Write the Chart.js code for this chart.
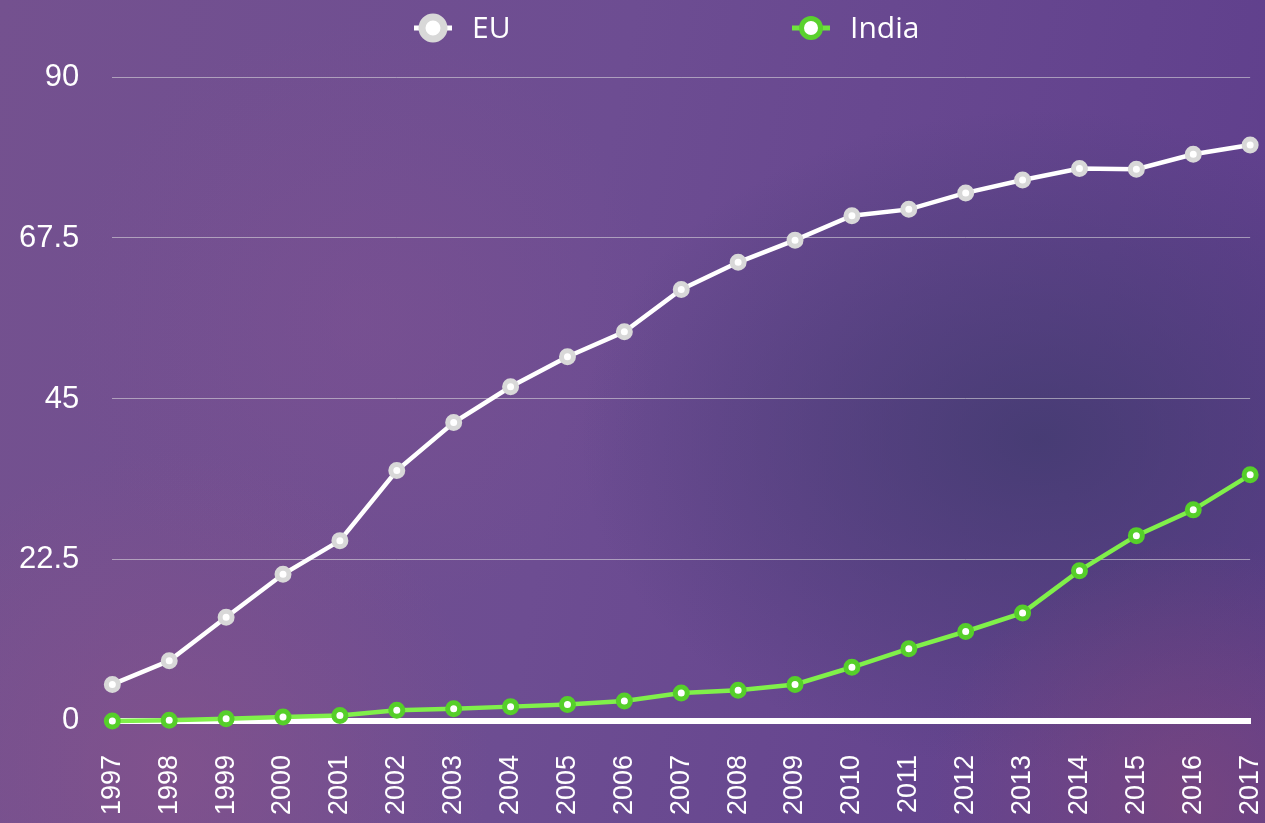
<!DOCTYPE html>
<html>
<head>
<meta charset="utf-8">
<script src="https://cdn.jsdelivr.net/npm/chart.js"></script>
<style>
    html, body {
        margin: 0;
        padding: 0;
        width: 1265px;
        height: 823px;
        overflow: hidden;
    }
    body {
        background:
            radial-gradient(circle at 170px 770px, rgba(140, 84, 138, 0.55) 0, rgba(140, 84, 138, 0) 320px),
            radial-gradient(circle at 1190px 800px, rgba(130, 72, 120, 0.6) 0, rgba(130, 72, 120, 0) 260px),
            radial-gradient(ellipse 460px 330px at 1040px 440px, rgba(64, 58, 110, 0.8) 0, rgba(64, 58, 110, 0) 100%),
            radial-gradient(circle at 360px 320px, rgba(128, 82, 146, 0.45) 0, rgba(128, 82, 146, 0) 300px),
            linear-gradient(100deg, #74518f 0%, #6d4d92 45%, #5e3e8c 100%);
    }
    #wrap {
        position: relative;
        width: 1265px;
        height: 823px;
    }
</style>
</head>
<body>
<div id="wrap"><canvas id="growth-chart"></canvas></div>
<script>
// Dados
const years = ['1997', '1998', '1999', '2000', '2001', '2002', '2003', '2004', '2005', '2006', '2007',
               '2008', '2009', '2010', '2011', '2012', '2013', '2014', '2015', '2016', '2017'];
const euValues = [5.1, 8.4, 14.5, 20.5, 25.2, 35.0, 41.7, 46.7, 50.9, 54.4, 60.3,
                  64.1, 67.2, 70.6, 71.5, 73.8, 75.6, 77.2, 77.1, 79.2, 80.5];
const indiaValues = [0.0, 0.1, 0.3, 0.55, 0.75, 1.5, 1.7, 2.0, 2.3, 2.8, 3.9,
                     4.3, 5.1, 7.5, 10.1, 12.5, 15.1, 21.0, 25.9, 29.5, 34.4];
const yMin = 0;
const yMax = 90;
const yStep = 22.5;

const seriesNames = ['EU', 'India'];

// legenda desenhada à mão: linha curta + círculo
const legendPlugin = {
    id: 'ringLegend',
    afterDraw(chart) {
        const ctx = chart.ctx;
        const items = [
            { x: 433, ring: '#d8d8d8', stub: '#ffffff', r: 11, w: 7 },
            { x: 811, ring: '#5ad12e', stub: '#6fe43c', r: 9.5, w: 5 }
        ];
        const y = 28;
        ctx.save();
        chart.data.datasets.forEach((ds, i) => {
            const it = items[i];
            ctx.strokeStyle = it.stub;
            ctx.lineWidth = 5;
            ctx.beginPath();
            ctx.moveTo(it.x - 19, y);
            ctx.lineTo(it.x + 19, y);
            ctx.stroke();

            ctx.beginPath();
            ctx.arc(it.x, y, it.r, 0, Math.PI * 2);
            ctx.fillStyle = '#ffffff';
            ctx.fill();
            ctx.lineWidth = it.w;
            ctx.strokeStyle = it.ring;
            ctx.stroke();

            ctx.fillStyle = '#ffffff';
            ctx.font = '30px "Open Sans", sans-serif';
            ctx.textBaseline = 'middle';
            ctx.textAlign = 'left';
            ctx.fillText(ds.label, it.x + 39, y + 1);
        });
        ctx.restore();
    }
};

function createGrowthChart() {
    const ctx = document.getElementById('growth-chart');

    new Chart(ctx, {
        type: 'line',
        data: {
            labels: years,
            datasets: [
                {
                    label: seriesNames[0],
                    data: euValues,
                    borderColor: '#ffffff',
                    borderWidth: 4.5,
                    pointBackgroundColor: '#ffffff',
                    pointBorderColor: '#d8d8d8',
                    pointBorderWidth: 5,
                    pointRadius: 6,
                    tension: 0,
                    clip: false
                },
                {
                    label: seriesNames[1],
                    data: indiaValues,
                    borderColor: '#80f04a',
                    borderWidth: 4.5,
                    pointBackgroundColor: '#ffffff',
                    pointBorderColor: '#56cf2a',
                    pointBorderWidth: 5,
                    pointRadius: 6,
                    tension: 0,
                    clip: false
                }
            ]
        },
        options: {
            responsive: true,
            maintainAspectRatio: false,
            animation: false,
            layout: {
                padding: { top: 77, left: 19, right: 0, bottom: 8 }
            },
            plugins: {
                legend: { display: false },
                tooltip: { enabled: false }
            },
            scales: {
                x: {
                    // tickLength faz o espaço até os rótulos (padding do Chart.js dobra)
                    grid: { display: false, drawTicks: true, tickLength: 34 },
                    border: { display: true, color: '#ffffff', width: 6 },
                    ticks: {
                        color: '#ffffff',
                        autoSkip: false,
                        minRotation: 90,
                        maxRotation: 90,
                        padding: 0,
                        font: { family: '"Liberation Sans", Arial, sans-serif', size: 27, lineHeight: 0.55 }
                    }
                },
                y: {
                    min: yMin,
                    max: yMax,
                    grid: {
                        color: 'rgba(225, 225, 225, 0.55)',
                        lineWidth: 1,
                        drawTicks: true,
                        tickLength: 33,
                        tickColor: 'rgba(0, 0, 0, 0)'
                    },
                    border: { display: false },
                    ticks: {
                        stepSize: yStep,
                        color: '#ffffff',
                        padding: 0,
                        font: { family: '"Liberation Sans", Arial, sans-serif', size: 31 }
                    }
                }
            }
        },
        plugins: [legendPlugin]
    });
}

createGrowthChart();
</script>
</body>
</html>
